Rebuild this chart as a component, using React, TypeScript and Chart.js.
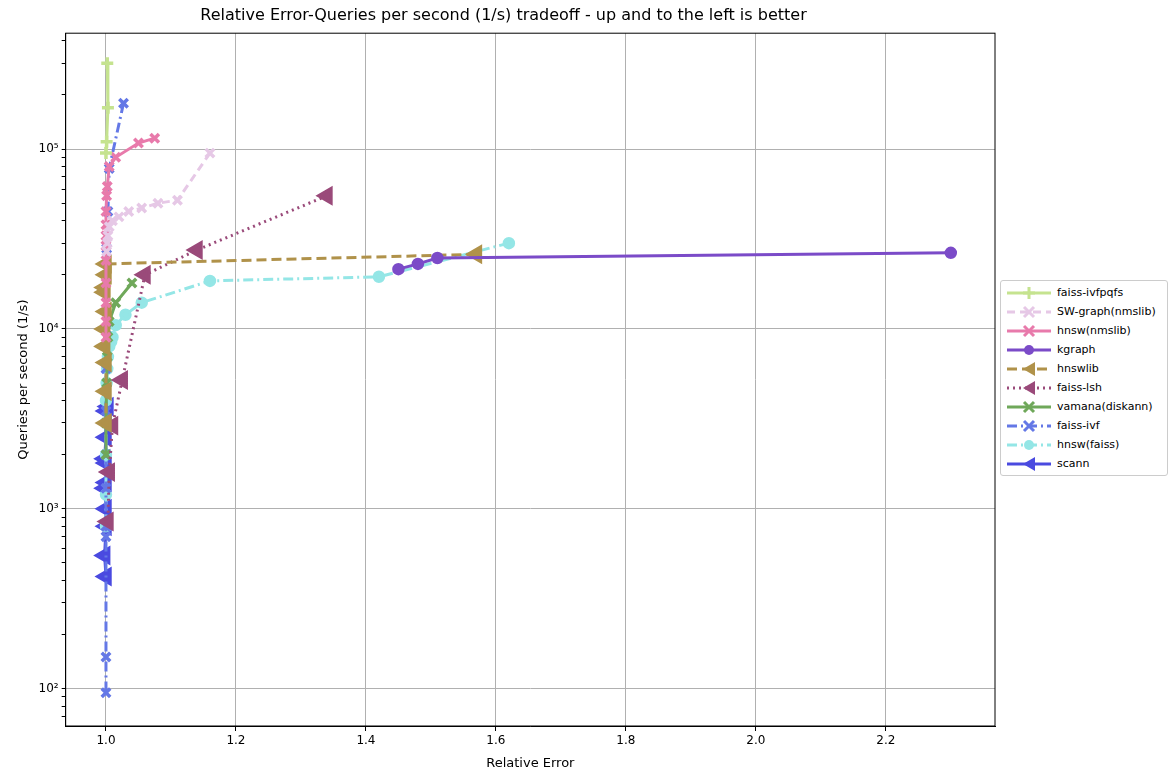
import React, { useEffect, useRef } from "react";
import { Chart, registerables } from "chart.js";
Chart.register(...registerables);

const names = ["faiss-ivfpqfs","SW-graph(nmslib)","hnsw(nmslib)","kgraph","hnswlib","faiss-lsh","vamana(diskann)","faiss-ivf","hnsw(faiss)","scann"];
const colors = ["#c5e38f","#e6c8e6","#e87aab","#7b4bc8","#b0924a","#9a4a7a","#6fa85a","#6478e6","#94e6e6","#4a4ae0"];
const dashes: number[][] = [[],[8,5],[],[],[10,5],[2,4],[],[10,4,2,4],[10,4,2,4],[]];
const styles = ["cross","crossRot","crossRot","circle","triangle","triangle","crossRot","crossRot","circle","triangle"];

const faissIvfpqfs = [[1.002,300000],[1.003,170000],[1.001,110000],[1.0,95000]];
const swGraph = [[1.16,95000],[1.11,52000],[1.08,50000],[1.055,47000],[1.035,45000],[1.02,42000],[1.01,40000],[1.005,37000],[1.003,33000],[1.002,30000],[1.001,27000]];
const hnswNmslib = [[1.075,115000],[1.05,108000],[1.015,90000],[1.005,80000],[1.002,62000],[1.001,55000],[1.0,45000],[1.0,38000],[1.0,33000],[1.0,29000],[1.0,24000],[1.0,18000],[1.0,14000],[1.0,11000],[1.0,9000]];
const kgraph = [[2.3,26500],[1.51,24800],[1.48,23000],[1.45,21500]];
const hnswlib = [[1.57,26000],[1.0,23000],[1.0,20000],[0.998,17000],[0.998,16000],[1.0,12500],[0.998,10000],[0.998,8000],[1.0,6500],[1.0,4500],[1.0,3000]];
const faissLsh = [[1.34,55000],[1.14,27500],[1.06,20000],[1.025,5200],[1.01,2900],[1.005,1600],[1.003,850]];
const vamana = [[1.04,18000],[1.015,14000],[1.005,11000],[1.003,9000],[1.002,7000],[1.001,5000],[1.0,3000],[1.0,2000]];
const faissIvf = [[1.027,180000],[1.005,78000],[1.003,45000],[1.001,28000],[1.0,10000],[1.0,6000],[1.0,3500],[1.0,2000],[1.0,1300],[1.0,800],[1.0,700],[1.0,150],[1.0,95]];
const hnswFaiss = [[1.62,30000],[1.42,19500],[1.16,18500],[1.055,14000],[1.03,12000],[1.015,10500],[1.01,9000],[1.008,8500],[1.005,8000],[1.003,7000],[1.002,6000],[1.001,5000],[1.0,4000],[1.0,3000],[1.0,2000],[1.0,1200],[1.0,800]];
const scann = [[1.003,3700],[1.0,3500],[1.0,2500],[0.998,1900],[1.0,1800],[1.0,1400],[0.998,1300],[1.0,1000],[1.0,800],[0.998,550],[1.0,420]];
const series = [faissIvfpqfs, swGraph, hnswNmslib, kgraph, hnswlib, faissLsh, vamana, faissIvf, hnswFaiss, scann];

const xTicks = [1.0,1.2,1.4,1.6,1.8,2.0,2.2];
const decades = [2,3,4,5];
const sup: Record<string,string> = {"2":"²","3":"³","4":"⁴","5":"⁵"};
const FONT = "'DejaVu Sans', sans-serif";

function Marker({ i }: { i: number }) {
  const c = colors[i], s = styles[i];
  let m: any = null;
  if (s === "cross") m = <path d="M24 4 V16 M18 10 H30" stroke={c} strokeWidth={3} />;
  else if (s === "crossRot") m = <path d="M19 5 L29 15 M29 5 L19 15" stroke={c} strokeWidth={3} />;
  else if (s === "circle") m = <circle cx={24} cy={10} r={5} fill={c} />;
  else m = <polygon points="18,10 30,3 30,17" fill={c} />;
  return (
    <svg width={48} height={20}>
      <line x1={2} y1={10} x2={46} y2={10} stroke={c} strokeWidth={3} strokeDasharray={dashes[i].join(",")} />
      {m}
    </svg>
  );
}

const frame = {
  id: "frame",
  afterDatasetsDraw(chart: any) {
    const { ctx, chartArea: a } = chart;
    ctx.save();
    ctx.strokeStyle = "#000";
    ctx.lineWidth = 1;
    ctx.strokeRect(a.left, a.top, a.right - a.left, a.bottom - a.top);
    ctx.restore();
  },
};

export default function App() {
  const ref = useRef<HTMLCanvasElement>(null);
  useEffect(() => {
    const chart = new Chart(ref.current!, {
      type: "line",
      plugins: [frame],
      data: {
        datasets: names.map((n, i) => ({
          label: n,
          data: series[i].map(([x, y]) => ({ x, y })),
          borderColor: colors[i],
          backgroundColor: colors[i],
          borderWidth: 3,
          borderDash: dashes[i],
          pointStyle: styles[i] as any,
          pointRotation: styles[i] === "triangle" ? -90 : 0,
          pointRadius: styles[i] === "triangle" ? 8 : styles[i] === "circle" ? 4.5 : 6,
          pointBorderWidth: 3.5,
          showLine: true,
          tension: 0,
        })),
      },
      options: {
        animation: false,
        responsive: false,
        layout: { padding: { left: 12, right: 173, top: 0, bottom: 3 } },
        plugins: {
          legend: { display: false },
          tooltip: { enabled: false },
          title: { display: true, text: "Relative Error-Queries per second (1/s) tradeoff - up and to the left is better", color: "#000", font: { family: FONT, size: 16, weight: "normal" }, padding: { top: 6, bottom: 8 } },
        },
        scales: {
          x: {
            type: "linear", min: 0.938, max: 2.368,
            afterBuildTicks: (ax: any) => { ax.ticks = xTicks.map((v) => ({ value: v })); },
            ticks: { color: "#000", font: { family: FONT, size: 12 }, callback: (v: any) => Number(v).toFixed(1), maxRotation: 0 },
            grid: { color: "#b0b0b0", tickColor: "#000", tickLength: 5 },
            border: { color: "#000" },
            title: { display: true, text: "Relative Error", color: "#000", font: { family: FONT, size: 13 } },
          },
          y: {
            type: "logarithmic", min: 62, max: 441000,
            afterBuildTicks: (ax: any) => {
              const t: any[] = [];
              for (let e = 1; e <= 5; e++) for (let k = 1; k <= 9; k++) { const v = k * Math.pow(10, e); if (v >= 62 && v <= 441000) t.push({ value: v }); }
              ax.ticks = t;
            },
            ticks: {
              color: "#000", font: { family: FONT, size: 12 }, autoSkip: false,
              callback: (v: any) => { const e = Math.round(Math.log10(v)); return Math.abs(v - Math.pow(10, e)) < 1e-6 && decades.includes(e) ? "10" + sup[String(e)] : ""; },
            },
            grid: {
              color: (c: any) => { const v = c.tick?.value; const e = Math.round(Math.log10(v)); return Math.abs(v - Math.pow(10, e)) < 1e-6 ? "#b0b0b0" : "rgba(0,0,0,0)"; },
              tickColor: "#000", tickLength: 4,
            },
            border: { color: "#000" },
            title: { display: true, text: "Queries per second (1/s)", color: "#000", font: { family: FONT, size: 13 } },
          },
        },
      },
    });
    return () => chart.destroy();
  }, []);
  return (
    <div style={{ position: "fixed", left: 0, top: 0, width: 1168, height: 778, background: "#fff" }}>
      <canvas ref={ref} width={1168} height={778} style={{ position: "absolute", left: 0, top: 0 }} />
      <div style={{ position: "absolute", left: 1000, top: 280, width: 158, border: "1px solid #ccc", borderRadius: 3, padding: "2px 4px", background: "#fff", fontFamily: FONT, fontSize: 11 }}>
        {names.map((n, i) => (
          <div key={n} style={{ display: "flex", alignItems: "center", height: 19 }}>
            <Marker i={i} />
            <span style={{ marginLeft: 4 }}>{n}</span>
          </div>
        ))}
      </div>
    </div>
  );
}
